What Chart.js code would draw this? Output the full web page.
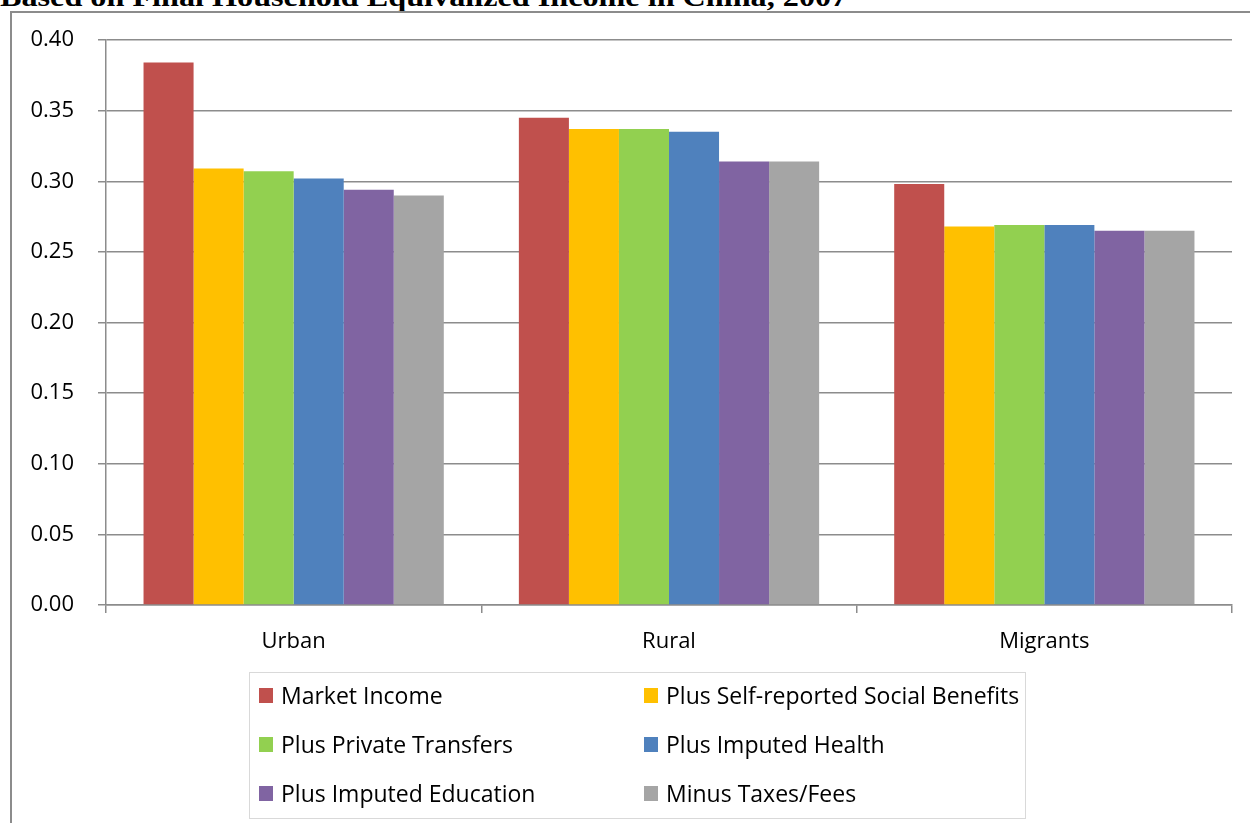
<!DOCTYPE html>
<html>
<head>
<meta charset="utf-8">
<script src="https://cdn.jsdelivr.net/npm/chart.js@4.4.1/dist/chart.umd.min.js"></script>
<style>
  html, body { margin: 0; padding: 0; background: #fff; overflow: hidden; }
  #page { position: relative; width: 1250px; height: 823px; overflow: hidden; }
  #heading {
    position: absolute; left: 0; top: -17px; white-space: nowrap;
    font-family: "Liberation Serif", "Times New Roman", serif; font-weight: bold;
    font-size: 28px; line-height: 28px; color: #000;
    transform: scaleX(1.15); transform-origin: 0 0;
  }
  #frame {
    position: absolute; left: 10px; top: 11px; width: 1300px; height: 900px;
    border-left: 2px solid #8c8c8c; border-top: 2px solid #8c8c8c;
  }
  #gini { position: absolute; left: 0; top: 0; }
  #legend {
    position: absolute; left: 249px; top: 672px; width: 777px; height: 147px;
    border: 1.5px solid #d9d9d9; box-sizing: border-box;
    font-family: "Open Sans", sans-serif; font-size: 23px; color: #000;
  }
  .item { position: absolute; display: flex; align-items: center; height: 30px; white-space: nowrap; }
  .swatch { width: 14px; height: 15px; margin-right: 8px; }
</style>
</head>
<body>
<div id="page">
  <div id="heading">Based on Final Household Equivalized Income in China, 2007</div>
  <div id="frame"></div>
  <canvas id="gini" width="1250" height="823"></canvas>
  <div id="legend"></div>
</div>
<script>
// Gini coefficients by group and income concept
const categories = ['Urban', 'Rural', 'Migrants'];
const seriesNames = [
  'Market Income',
  'Plus Self-reported Social Benefits',
  'Plus Private Transfers',
  'Plus Imputed Health',
  'Plus Imputed Education',
  'Minus Taxes/Fees'
];
const marketIncome       = [0.384, 0.345, 0.298];
const selfReportedBenefits = [0.309, 0.337, 0.268];
const privateTransfers   = [0.307, 0.337, 0.269];
const imputedHealth      = [0.302, 0.335, 0.269];
const imputedEducation   = [0.294, 0.314, 0.265];
const taxesFees          = [0.290, 0.314, 0.265];
const yTicks = [0, 0.05, 0.10, 0.15, 0.20, 0.25, 0.30, 0.35, 0.40];

const seriesValues = [marketIncome, selfReportedBenefits, privateTransfers,
                      imputedHealth, imputedEducation, taxesFees];
const seriesColors = ['#C0504D', '#FFC000', '#92D050', '#4F81BD', '#8064A2', '#A5A5A5'];

const AXIS_GRAY = '#8c8c8c';
const FONT = { family: '"Open Sans", sans-serif', size: 22 };

const datasets = seriesNames.map((name, i) => ({
  label: name,
  data: seriesValues[i],
  backgroundColor: seriesColors[i],
  borderWidth: 0,
  categoryPercentage: 0.8,
  barPercentage: 1.0
}));

const chart = new Chart(document.getElementById('gini'), {
  type: 'bar',
  data: { labels: categories, datasets: datasets },
  options: {
    responsive: false,
    animation: false,
    devicePixelRatio: 1,
    layout: { padding: { top: 40, right: 18, left: 0, bottom: 0 } },
    plugins: { legend: { display: false }, tooltip: { enabled: false } },
    scales: {
      x: {
        afterFit: (scale) => { scale.height = 218; },
        grid: { drawOnChartArea: false, drawTicks: true, tickLength: 8, color: AXIS_GRAY, lineWidth: 1.5, offset: true },
        border: { display: true, color: AXIS_GRAY, width: 1.5 },
        ticks: { color: '#000', font: FONT, padding: 16 }
      },
      y: {
        min: 0,
        max: 0.4,
        afterFit: (scale) => { scale.width = 106; },
        afterBuildTicks: (scale) => { scale.ticks = yTicks.map(v => ({ value: v })); },
        grid: { color: AXIS_GRAY, lineWidth: 1.5, tickLength: 8 },
        border: { display: true, color: AXIS_GRAY, width: 1.5 },
        ticks: { color: '#000', font: FONT, padding: 24, callback: (v) => Number(v).toFixed(2) }
      }
    }
  }
});

// legend box with two columns, built from the chart's datasets
const legendBox = document.getElementById('legend');
chart.data.datasets.forEach((ds, i) => {
  const item = document.createElement('div');
  item.className = 'item';
  item.style.left = (i % 2 === 0 ? 9 : 394) + 'px';
  item.style.top = (7 + Math.floor(i / 2) * 49) + 'px';
  const sw = document.createElement('span');
  sw.className = 'swatch';
  sw.style.background = ds.backgroundColor;
  const tx = document.createElement('span');
  tx.textContent = ds.label;
  item.appendChild(sw);
  item.appendChild(tx);
  legendBox.appendChild(item);
});
</script>
</body>
</html>
